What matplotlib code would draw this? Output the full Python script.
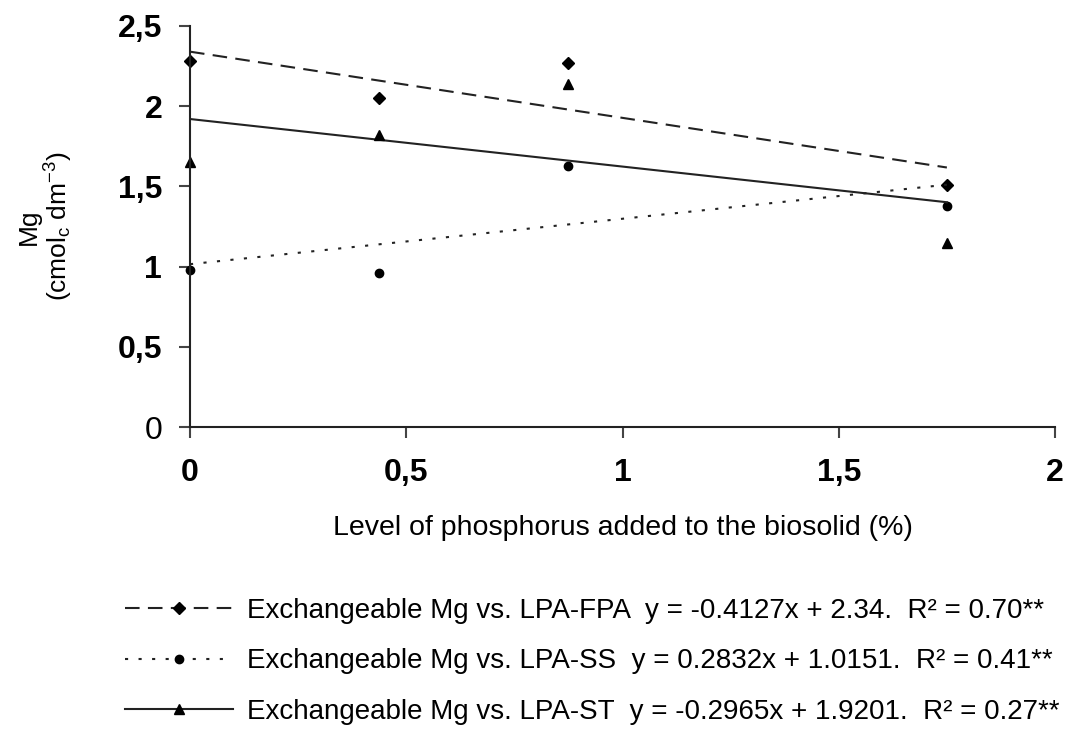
import matplotlib.pyplot as plt
from matplotlib.lines import Line2D
import numpy as np

plt.rcParams['font.family'] = ['Liberation Sans', 'DejaVu Sans']
plt.rcParams['mathtext.fontset'] = 'custom'
plt.rcParams['mathtext.rm'] = 'Liberation Sans'
plt.rcParams['mathtext.it'] = 'Liberation Sans'

# P levels added to the biosolid (%)
levels = [0, 0.4375, 0.875, 1.75]

# exchangeable Mg (cmolc dm-3)
mg_fpa = [2.28, 2.05, 2.27, 1.51]
mg_ss = [0.98, 0.96, 1.63, 1.38]
mg_st = [1.65, 1.82, 2.14, 1.15]

# linear trend coefficients (slope, intercept) from the fitted equations
fit_fpa = (-0.4127, 2.34)
fit_ss = (0.2832, 1.0151)
fit_st = (-0.2965, 1.9201)

labels = [
    "Exchangeable Mg vs. LPA-FPA  y = -0.4127x + 2.34.  R² = 0.70**",
    "Exchangeable Mg vs. LPA-SS  y = 0.2832x + 1.0151.  R² = 0.41**",
    "Exchangeable Mg vs. LPA-ST  y = -0.2965x + 1.9201.  R² = 0.27**",
]

xticks = [0, 0.5, 1, 1.5, 2]
xticklabels = ['0', '0,5', '1', '1,5', '2']
yticks = [0, 0.5, 1, 1.5, 2, 2.5]
yticklabels = ['0', '0,5', '1', '1,5', '2', '2,5']

fig = plt.figure(figsize=(10.87, 7.35), dpi=100)
ax = fig.add_axes([190 / 1087, 1 - 427 / 735, 865 / 1087, 401 / 735])

x_line = np.array([levels[0], levels[-1]])
styles = [
    (mg_fpa, fit_fpa, (0, (7, 4)), 'D', 6),
    (mg_ss, fit_ss, (0, (1.5, 5)), 'o', 6),
    (mg_st, fit_st, '-', '^', 7),
]
handles = []
for vals, (m, b), ls, mk, ms in styles:
    ax.plot(x_line, m * x_line + b, color='#222222', linestyle=ls, lw=1.5)
    ax.plot(levels, vals, linestyle='none', marker=mk, markersize=ms,
            color='black', clip_on=False)
    handles.append(Line2D([], [], color='#222222', linestyle=ls, lw=1.5,
                          marker=mk, markersize=ms, markerfacecolor='black',
                          markeredgecolor='black'))

ax.set_xlim(0, 2)
ax.set_ylim(0, 2.5)
ax.spines['top'].set_visible(False)
ax.spines['right'].set_visible(False)
for s in ['left', 'bottom']:
    ax.spines[s].set_linewidth(1.5)
    ax.spines[s].set_color('#222222')

ax.set_xticks(xticks)
ax.set_xticklabels(xticklabels, fontsize=23, fontweight='bold')
ax.set_yticks(yticks)
ax.set_yticklabels(yticklabels, fontsize=23, fontweight='bold')
ax.get_yticklabels()[0].set_fontweight('normal')
ax.tick_params(axis='both', direction='out', length=8, width=1.5,
               color='#444444')
ax.tick_params(axis='x', pad=14)
ax.tick_params(axis='y', pad=12)

ax.set_xlabel('Level of phosphorus added to the biosolid (%)', fontsize=20.5,
              labelpad=20)
ax.set_ylabel('Mg\n(cmol$_\\mathrm{c}$ dm$^{-3}$)', fontsize=19,
              labelpad=31, linespacing=1.05)

fig.legend(handles, labels, loc='upper left',
           bbox_to_anchor=(100 / 1087, 1 - 573 / 735), frameon=False,
           fontsize=20, handlelength=3.9, numpoints=1, labelspacing=0.88,
           handletextpad=0.5)

fig.savefig('out.png', dpi=100)
